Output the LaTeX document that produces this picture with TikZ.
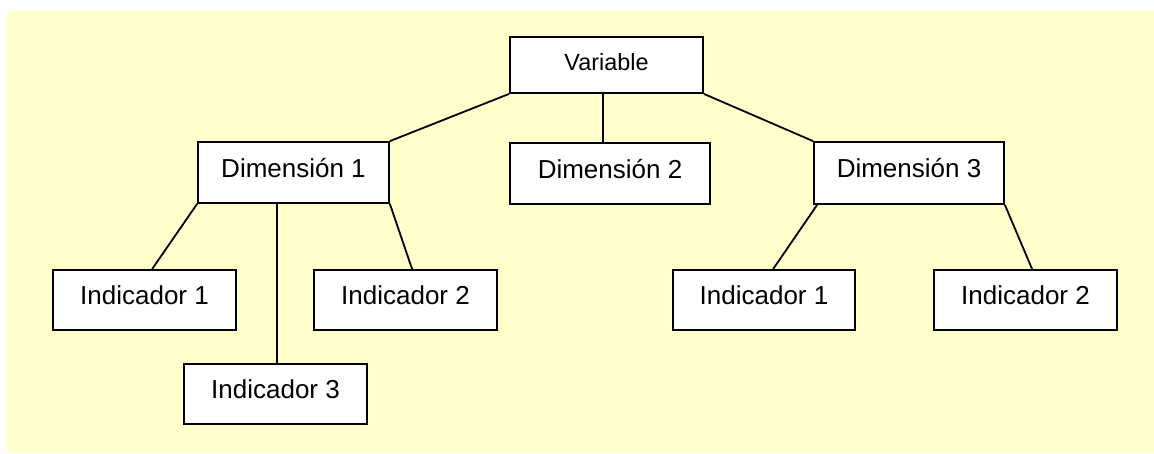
\documentclass[tikz,border=0pt]{standalone}
\usepackage{fontspec}
\setmainfont{Liberation Sans}
\usetikzlibrary{calc}
\definecolor{bgyellow}{HTML}{FFFFCC}
\tikzset{
  box/.style={draw=black, fill=white, line width=1.8pt, inner sep=0pt,
    font=\fontsize{26}{30}\selectfont, text height=18.6pt, text depth=9.4pt,
    minimum height=60pt},
  topbox/.style={box, font=\fontsize{23.4}{28}\selectfont, text height=16.8pt, text depth=5.4pt},
  conn/.style={draw=black, line width=1.8pt},
}
\begin{document}
\begin{tikzpicture}[x=1pt, y=-1pt]
\useasboundingbox (0,0) rectangle (1154,453);
\fill[bgyellow] (7,11) rectangle (1154,453);
\node[topbox, minimum width=193pt, minimum height=56pt] (v) at (606.5,65) {Variable};
\node[box, minimum width=191pt, minimum height=61pt] (d1) at (293.5,172.5) {Dimensión 1};
\node[box, minimum width=200pt, minimum height=61pt] (d2) at (610,173.5) {Dimensión 2};
\node[box, minimum width=190pt, minimum height=62pt] (d3) at (909,173) {Dimensión 3};
\node[box, minimum width=183pt] (i1) at (144.5,300) {Indicador 1};
\node[box, minimum width=183pt] (i2) at (405.5,300) {Indicador 2};
\node[box, minimum width=183pt] (i3) at (275.5,394) {Indicador 3};
\node[box, minimum width=182pt] (j1) at (764,300) {Indicador 1};
\node[box, minimum width=183pt] (j2) at (1025.5,300) {Indicador 2};
\draw[conn] (v.south west) -- (d1.north east);
\draw[conn] ([xshift=-3.5pt]v.south) -- ([xshift=-3.5pt]v.south |- d2.north);
\draw[conn] (v.south east) -- (d3.north west);
\draw[conn] (d1.south west) -- ([xshift=100pt]i1.north west);
\draw[conn] ([xshift=94pt]i3.north west) -- ([xshift=94pt]i3.north west |- d1.south);
\draw[conn] (d1.south east) -- ([xshift=99pt]i2.north west);
\draw[conn] ([xshift=4pt]d3.south west) -- ([xshift=101pt]j1.north west);
\draw[conn] (d3.south east) -- ([xshift=99pt]j2.north west);
\end{tikzpicture}
\end{document}
